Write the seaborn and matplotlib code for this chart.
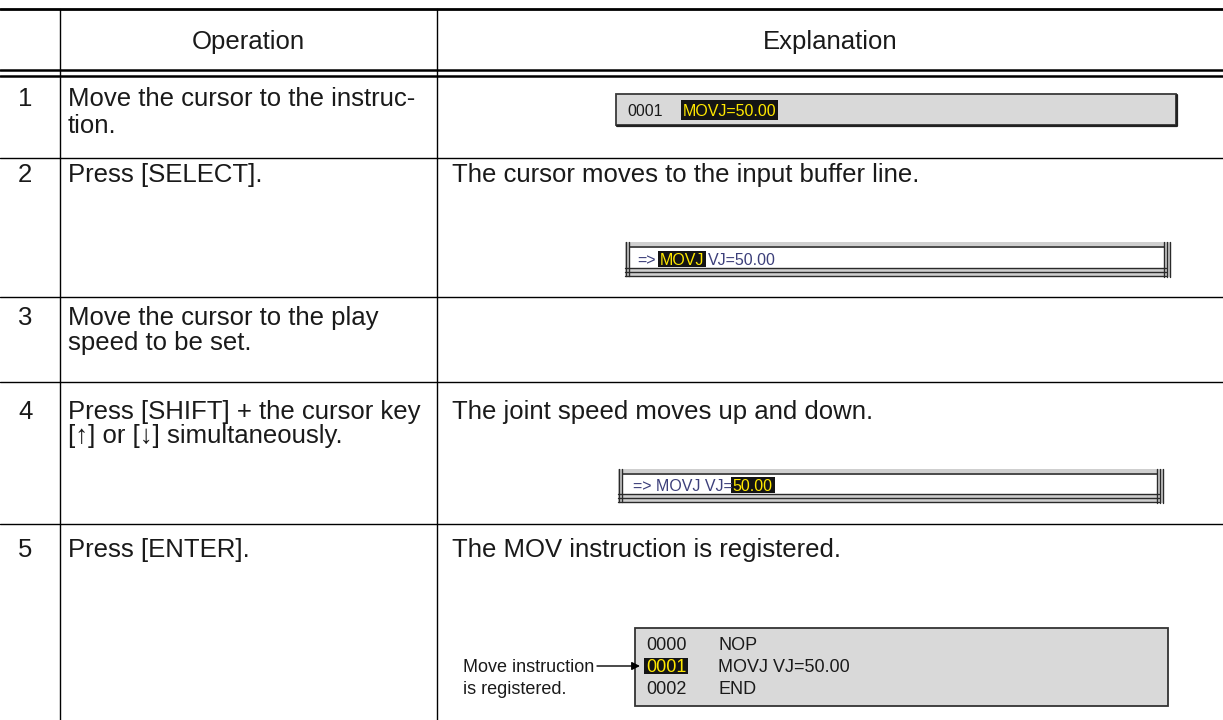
import matplotlib
matplotlib.use("Agg")
import matplotlib.pyplot as plt
import seaborn as sns
from matplotlib.patches import Rectangle

sns.set_theme(style="white")
plt.rcParams['font.family'] = ['Liberation Sans', 'DejaVu Sans']

# ---- table content ----
header = ["Operation", "Explanation"]
step_numbers = ["1", "2", "3", "4", "5"]
operations = [
    ["Move the cursor to the instruc-", "tion."],
    ["Press [SELECT]."],
    ["Move the cursor to the play", "speed to be set."],
    ["Press [SHIFT] + the cursor key", "[\u2191] or [\u2193] simultaneously."],
    ["Press [ENTER]."],
]
explanations = [
    "",
    "The cursor moves to the input buffer line.",
    "",
    "The joint speed moves up and down.",
    "The MOV instruction is registered.",
]

# screen snippets: (text, highlighted)
screen_row1 = [("0001", False), ("MOVJ=50.00", True)]
buffer_row2 = [("=>", False), ("MOVJ", True), ("VJ=50.00", False)]
buffer_row4 = [("=> MOVJ VJ=", False), ("50.00", True)]
job_numbers = ["0000", "0001", "0002"]
job_instructions = ["NOP", "MOVJ VJ=50.00", "END"]
job_cursor = 1
callout_text = ["Move instruction", "is registered."]

# ---- layout (pixels) ----
W, H = 1223, 720
col_x = [60, 437]
row_lines = [158, 297, 382, 524]
row_text_y = [[97, 124], [173], [316, 341], [410, 434], [548]]
main_fs = 18.5
box_fs = 11.5
ink = "#1a1a1a"
navy = "#3c3f7a"
hl_bg = "#141414"
hl_fg = "#ffe800"

fig = plt.figure(figsize=(W / 100, H / 100), dpi=100)
ax = fig.add_axes([0, 0, 1, 1])
ax.set_xlim(0, W)
ax.set_ylim(H, 0)
ax.axis("off")
renderer = fig.canvas.get_renderer()


def base(yc, fs):
    # baseline from the visual centre of capitals
    return yc + 0.36 * fs * 100 / 72


def draw_segments(x, yc, segs, fs, color, gap, hl_h):
    for text, hl in segs:
        t = ax.text(x, base(yc, fs), text, ha="left", va="baseline",
                    fontsize=fs, color=hl_fg if hl else color, zorder=4)
        w = t.get_window_extent(renderer).width
        if hl:
            ax.add_patch(Rectangle((x - 2, yc - hl_h / 2), w + 4, hl_h,
                                   facecolor=hl_bg, edgecolor="none", zorder=3))
        x += w + gap


def buffer_frame(x0, x1, y0, y1):
    ax.add_patch(Rectangle((x0, y0), x1 - x0, y1 - y0, facecolor="#cfcfcf",
                           edgecolor="none", zorder=1))
    ax.add_patch(Rectangle((x0 + 5, y0 + 5), x1 - x0 - 11, y1 - y0 - 14,
                           facecolor="white", edgecolor="none", zorder=2))
    ax.plot([x0 + 5, x1 - 6], [y0 + 5, y0 + 5], color="#4a4a4a", lw=1.4, zorder=2)
    for yy in (y1 - 9, y1 - 5, y1 - 1):
        ax.plot([x0, x1 - 4], [yy, yy], color="#2a2a2a", lw=1.0, zorder=2)
    for xx in (x0 + 1, x0 + 4):
        ax.plot([xx, xx], [y0, y1 - 1], color="#2a2a2a", lw=1.0, zorder=2)
    for xx in (x1 - 6, x1 - 3, x1):
        ax.plot([xx, xx], [y0, y1], color="#2a2a2a", lw=1.0, zorder=2)


# ---- table rules ----
ax.plot([0, W], [9, 9], color="black", lw=2.0)
ax.plot([0, W], [70, 70], color="black", lw=1.8)
ax.plot([0, W], [76, 76], color="black", lw=1.8)
for yy in row_lines:
    ax.plot([0, W], [yy, yy], color="black", lw=1.0)
for xx in col_x:
    ax.plot([xx, xx], [9, H], color="black", lw=1.0)

# ---- header ----
ax.text((col_x[0] + col_x[1]) / 2, base(40, main_fs), header[0], ha="center",
        va="baseline", fontsize=main_fs, color=ink)
ax.text((col_x[1] + W) / 2, base(40, main_fs), header[1], ha="center",
        va="baseline", fontsize=main_fs, color=ink)

# ---- rows ----
for num, ops, expl, ys in zip(step_numbers, operations, explanations, row_text_y):
    ax.text(18, base(ys[0], main_fs), num, ha="left", va="baseline",
            fontsize=main_fs, color=ink)
    for line, yy in zip(ops, ys):
        ax.text(68, base(yy, main_fs), line, ha="left", va="baseline",
                fontsize=main_fs, color=ink)
    if expl:
        ax.text(452, base(ys[0], main_fs), expl, ha="left", va="baseline",
                fontsize=main_fs, color=ink)

# ---- row 1: program line ----
ax.add_patch(Rectangle((616, 94), 560, 31, facecolor="#d9d9d9",
                       edgecolor="#3a3a3a", lw=1.3, zorder=1))
ax.plot([617, 1177, 1177], [126, 126, 95], color="#222222", lw=1.6, zorder=1)
draw_segments(627, 110, screen_row1, box_fs, ink, 20, 20)

# ---- row 2 / row 4: input buffer ----
buffer_frame(625, 1170, 242, 277)
draw_segments(637, 259, buffer_row2, box_fs, navy, 4, 16)
buffer_frame(618, 1163, 469, 503)
draw_segments(633, 485, buffer_row4, box_fs, navy, 0, 16)

# ---- row 5: job listing with callout ----
ax.add_patch(Rectangle((635, 628), 533, 78, facecolor="#d9d9d9",
                       edgecolor="#333333", lw=1.3, zorder=1))
job_y = [644, 666, 688]
for i, (n, ins, yy) in enumerate(zip(job_numbers, job_instructions, job_y)):
    draw_segments(646, yy, [(n, i == job_cursor)], 13, ink, 0, 16)
    ax.text(718, base(yy, 13), ins, ha="left", va="baseline", fontsize=13,
            color=ink, zorder=4)
for line, yy in zip(callout_text, job_y[1:]):
    ax.text(463, base(yy, 13), line, ha="left", va="baseline", fontsize=13,
            color=ink)
ax.annotate("", xy=(640, job_y[job_cursor]), xytext=(597, job_y[job_cursor]),
            arrowprops=dict(arrowstyle="-|>", color="black", lw=1.0,
                            mutation_scale=12, shrinkA=0, shrinkB=0))

fig.savefig("out.png", dpi=100)
